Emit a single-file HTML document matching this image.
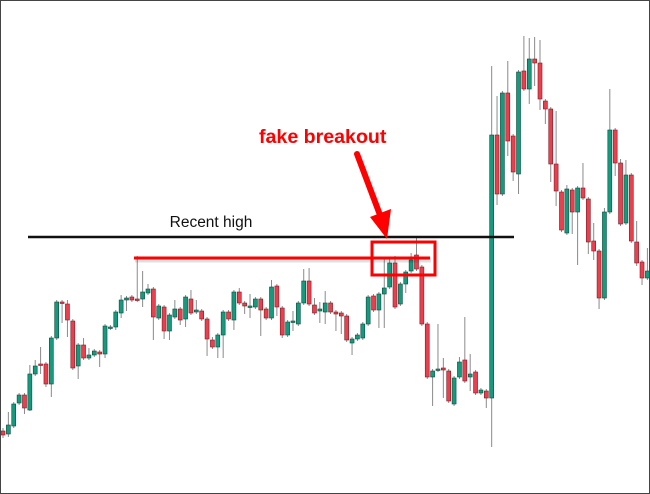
<!DOCTYPE html>
<html><head><meta charset="utf-8"><style>
html,body{margin:0;padding:0;background:#fff}
#wrap{position:relative;width:650px;height:494px;box-sizing:border-box;border:1px solid #444;overflow:hidden;background:#fff}
svg{position:absolute;left:0;top:0}
</style></head><body>
<div id="wrap">
<svg id="chart" width="650" height="494">
  <g id="candles"></g>
  <line x1="27" y1="236" x2="513" y2="236" stroke="#111" stroke-width="2.5"/>
  <text x="210" y="226" font-family="Liberation Sans, sans-serif" font-size="15.5" fill="#111" text-anchor="middle">Recent high</text>
  <line x1="133" y1="257" x2="429" y2="257" stroke="rgba(0,0,0,0.12)" stroke-width="5" transform="translate(1,2)"/>
  <line x1="133" y1="257" x2="429" y2="257" stroke="#f00" stroke-width="3"/>
  <rect x="371" y="241" width="63" height="33" fill="none" stroke="#f00" stroke-width="3"/>
  <g>
    <line x1="356" y1="153" x2="379" y2="214" stroke="#f00" stroke-width="6" stroke-linecap="round"/>
    <polygon points="369,216 390,208 386,238" fill="#f00"/>
  </g>
  <text x="258" y="142" font-family="Liberation Sans, sans-serif" font-size="19.6" font-weight="bold" fill="#f00">fake breakout</text>
</svg>
</div>
<script>
const open  = [70,67,75,98,106,91,127,137,137,117,163,199,197,180,135,156,143,146,149,147,173,174,188,201,204,202,202,208,212,183,194,170,184,192,182,202,189,190,182,161,154,166,189,181,209,198,194,194,202,192,183,215,193,166,179,177,198,220,196,190,189,198,189,188,185,158,162,163,177,205,191,207,214,238,197,217,230,246,234,177,124,131,133,130,97,124,141,124,129,108,110,103,366,307,408,365,327,430,412,442,438,400,392,337,309,268,311,289,313,302,260,250,203,289,371,338,278,326,259,239,223];
const high  = [73,89,99,108,108,136,141,154,139,165,201,201,201,182,158,163,153,152,151,177,176,191,206,205,206,245,230,217,214,197,196,188,201,194,206,211,201,192,184,164,168,191,191,211,213,200,207,204,204,194,221,217,195,181,190,200,232,233,203,199,210,200,191,190,187,164,168,179,206,207,209,244,244,245,219,231,248,263,236,179,132,177,143,132,125,144,184,147,131,113,112,435,405,410,440,367,431,465,463,464,461,402,394,390,311,316,313,315,338,304,278,252,293,412,373,342,341,328,280,241,253];
const low   = [63,64,73,96,87,90,125,127,114,104,161,178,164,131,122,141,141,144,134,143,171,171,183,190,199,199,194,206,161,181,162,161,182,176,174,186,187,180,145,152,143,143,180,171,196,187,183,192,165,181,181,185,163,164,170,175,196,195,186,178,177,187,170,167,159,146,160,161,175,189,173,173,212,192,195,208,228,230,175,122,95,129,103,98,95,122,118,110,106,106,93,54,296,305,345,320,307,410,397,415,391,377,319,295,269,266,267,236,301,247,241,192,201,287,325,275,276,258,235,216,221];
const close = [66,76,97,106,93,127,135,136,117,163,199,198,181,133,156,143,146,150,147,175,174,189,201,203,201,201,209,212,184,195,170,186,192,181,204,188,191,182,162,154,166,189,182,209,198,195,195,202,191,183,214,194,166,179,180,198,220,197,188,192,198,189,187,185,161,162,166,177,204,191,207,213,238,194,217,229,241,232,177,124,130,132,131,100,123,139,120,127,108,111,103,366,307,408,360,329,429,412,442,438,402,392,337,310,271,312,289,313,303,259,250,203,289,371,338,277,326,260,238,223,230];

const X0 = 2, STEP = 5.37;
function xScale(i){ return X0 + i*STEP; }
function yScale(p){ return 500 - p; }

const NS = 'http://www.w3.org/2000/svg';
const g = document.getElementById('candles');
for (let i = 0; i < open.length; i++) {
  const up = close[i] >= open[i];
  const cx = xScale(i);
  const wick = document.createElementNS(NS, 'line');
  wick.setAttribute('x1', cx); wick.setAttribute('x2', cx);
  wick.setAttribute('y1', yScale(high[i])); wick.setAttribute('y2', yScale(low[i]));
  wick.setAttribute('stroke', '#8a8a8a'); wick.setAttribute('stroke-width', '1');
  
  
  g.appendChild(wick);
  const top = yScale(Math.max(open[i], close[i]));
  const bot = yScale(Math.min(open[i], close[i]));
  const body = document.createElementNS(NS, 'rect');
  body.setAttribute('x', cx - 2); body.setAttribute('width', 4);
  body.setAttribute('y', top); body.setAttribute('height', Math.max(1.5, bot - top));
  body.setAttribute('fill', up ? '#169a7e' : '#ec3f4e');
  body.setAttribute('stroke', up ? '#0d4a3c' : '#7a1c24');
  body.setAttribute('stroke-width', '0.6');
  
  
  g.appendChild(body);
}
</script>
</body></html>
